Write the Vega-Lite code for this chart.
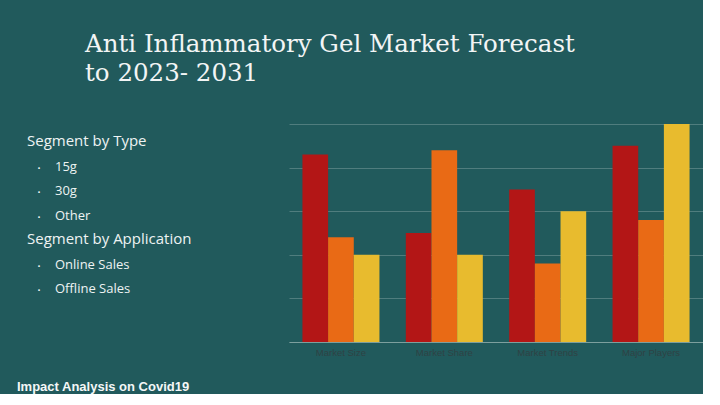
{
  "$schema": "https://vega.github.io/schema/vega-lite/v6.json",
  "background": "#215a5c",
  "padding": {"left": 17, "top": 31, "right": 0, "bottom": 0},
  "title": {
    "text": ["Anti Inflammatory Gel Market Forecast", "to 2023- 2031"],
    "anchor": "start",
    "dx": 68,
    "offset": 38,
    "font": "DejaVu Serif",
    "fontSize": 24.5,
    "fontWeight": "normal",
    "color": "#f2f5f5",
    "lineHeight": 29
  },
  "spacing": 234,
  "bounds": "flush",
  "config": {"view": {"stroke": null}},
  "hconcat": [
    {
      "width": 28,
      "height": 267,
      "data": {
        "values": [
          {"role": "heading", "label": "Segment by Type", "indent": 0, "line": 0},
          {"role": "item", "label": "15g", "indent": 1, "line": 1},
          {"role": "item", "label": "30g", "indent": 1, "line": 2},
          {"role": "item", "label": "Other", "indent": 1, "line": 3},
          {"role": "heading", "label": "Segment by Application", "indent": 0, "line": 4},
          {"role": "item", "label": "Online Sales", "indent": 1, "line": 5},
          {"role": "item", "label": "Offline Sales", "indent": 1, "line": 6},
          {"role": "footer", "label": "Impact Analysis on Covid19", "indent": 0, "line": 10}
        ]
      },
      "encoding": {
        "x": {"field": "indent", "type": "quantitative", "scale": {"domain": [0, 1], "nice": false, "zero": false}, "axis": null},
        "y": {"field": "line", "type": "quantitative", "scale": {"domain": [-0.9, 10], "nice": false, "zero": false, "reverse": true}, "axis": null}
      },
      "layer": [
        {
          "transform": [{"filter": "datum.role === 'heading'"}],
          "mark": {"type": "text", "align": "left", "baseline": "alphabetic", "font": "Open Sans", "fontSize": 15, "color": "#eef3f3"},
          "encoding": {"text": {"field": "label"}}
        },
        {
          "transform": [{"filter": "datum.role === 'item'"}],
          "mark": {"type": "text", "align": "left", "baseline": "alphabetic", "font": "Open Sans", "fontSize": 13, "color": "#eef3f3"},
          "encoding": {"text": {"field": "label"}}
        },
        {
          "transform": [{"filter": "datum.role === 'item'"}],
          "mark": {"type": "text", "align": "center", "baseline": "alphabetic", "dx": -16, "text": "•", "font": "Open Sans", "fontSize": 8, "color": "#eef3f3"},
          "encoding": {}
        },
        {
          "transform": [{"filter": "datum.role === 'footer'"}],
          "mark": {"type": "text", "align": "left", "baseline": "alphabetic", "dx": -10, "font": "Liberation Sans", "fontWeight": "bold", "fontSize": 13, "color": "#f4f7f7"},
          "encoding": {"text": {"field": "label"}}
        }
      ]
    },
    {
      "width": 414,
      "height": 218,
      "data": {
        "values": [
          {"category": "Market Size", "series": "Series 1", "value": 4.3},
          {"category": "Market Size", "series": "Series 2", "value": 2.4},
          {"category": "Market Size", "series": "Series 3", "value": 2.0},
          {"category": "Market Share", "series": "Series 1", "value": 2.5},
          {"category": "Market Share", "series": "Series 2", "value": 4.4},
          {"category": "Market Share", "series": "Series 3", "value": 2.0},
          {"category": "Market Trends", "series": "Series 1", "value": 3.5},
          {"category": "Market Trends", "series": "Series 2", "value": 1.8},
          {"category": "Market Trends", "series": "Series 3", "value": 3.0},
          {"category": "Major Players", "series": "Series 1", "value": 4.5},
          {"category": "Major Players", "series": "Series 2", "value": 2.8},
          {"category": "Major Players", "series": "Series 3", "value": 5.0}
        ]
      },
      "mark": {"type": "bar"},
      "encoding": {
        "x": {
          "field": "category", "type": "nominal", "sort": null,
          "scale": {"paddingInner": 0.255, "paddingOuter": 0.13},
          "axis": {"title": null, "labelAngle": 0, "labelColor": "#2f4244", "labelFont": "Liberation Sans", "labelFontSize": 9.5, "ticks": false, "domainColor": "#7d9f9e", "labelPadding": 5, "grid": false}
        },
        "xOffset": {"field": "series", "type": "nominal", "scale": {"paddingInner": 0, "paddingOuter": 0}},
        "y": {
          "field": "value", "type": "quantitative",
          "scale": {"domain": [0, 5], "nice": false},
          "axis": {"title": null, "labels": false, "ticks": false, "domain": false, "values": [0, 1, 2, 3, 4, 5], "gridColor": "#8aa9a8", "gridOpacity": 0.45}
        },
        "color": {
          "field": "series", "type": "nominal",
          "scale": {"range": ["#b31616", "#e96a15", "#e8bb2e"]},
          "legend": null
        }
      }
    }
  ]
}
